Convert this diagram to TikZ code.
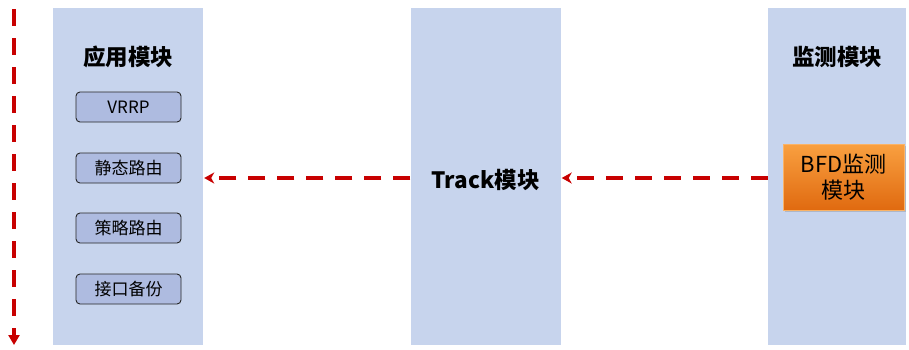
\documentclass[tikz,border=0pt]{standalone}
\usepackage{fontspec}
\setmainfont{Noto Sans CJK SC}
\usetikzlibrary{arrows.meta,shadows}
\definecolor{colfill}{HTML}{C7D4ED}
\definecolor{subfill}{HTML}{AEBBE0}
\definecolor{arrred}{HTML}{C80000}
\definecolor{orgtop}{HTML}{F9A040}
\definecolor{orgbot}{HTML}{E06A10}
\begin{document}
\begin{tikzpicture}[x=1pt,y=-1pt,
  column/.style={rectangle,fill=colfill,minimum width=150pt,minimum height=337pt,inner sep=0pt},
  titletext/.style={font=\fontsize{22.5}{26}\selectfont\bfseries},
  subbox/.style={rectangle,rounded corners=4pt,draw=black!85,line width=0.9pt,fill=subfill,minimum width=105pt,minimum height=30pt,inner sep=0pt,font=\fontsize{17}{20}\selectfont},
  flow/.style={draw=arrred,line width=4pt,dash pattern=on 17pt off 12pt},
  bfdbox/.style={rectangle,top color=orgtop,bottom color=orgbot,draw=orgtop!80!white,line width=0.6pt,minimum width=121pt,minimum height=66pt,align=center,font=\fontsize{22}{26}\selectfont,drop shadow={shadow xshift=1.5pt,shadow yshift=-1.5pt,opacity=0.35}}
]
\useasboundingbox (0,0) rectangle (909,349);
% columns
\node[column] (app) at (128,176.5) {};
\node[column] (track) at (485.5,176.5) {};
\node[column,minimum width=138pt] (mon) at (837,176.5) {};
% titles
\node[titletext] (apptitle) at (128,57) {应用模块};
\node[titletext] (tracktitle) at (485.5,180) {Track模块};
\node[titletext] (montitle) at (837,57) {监测模块};
% sub boxes
\node[subbox] (vrrp) at (128.5,107) {VRRP};
\node[subbox] (static) at (128.5,168) {静态路由};
\node[subbox] (policy) at (128.5,228) {策略路由};
\node[subbox] (iface) at (128.5,289) {接口备份};
% BFD box
\node[bfdbox] (bfd) at (843.5,177) {BFD监测\\模块};
% arrows
\draw[flow,-{Stealth[length=10pt,width=11pt,inset=3pt]}] (track.west|-0,178) -- ([xshift=1pt]app.east|-0,178);
\draw[flow,-{Stealth[length=10pt,width=11pt,inset=3pt]}] (mon.west|-0,178) -- ([xshift=1pt]track.east|-0,178);
\coordinate (vtop) at (14,9);
\coordinate (vbot) at (14,345);
\draw[flow,-{Triangle[length=10pt,width=11pt]}] (vtop) -- (vbot);
\end{tikzpicture}
\end{document}
